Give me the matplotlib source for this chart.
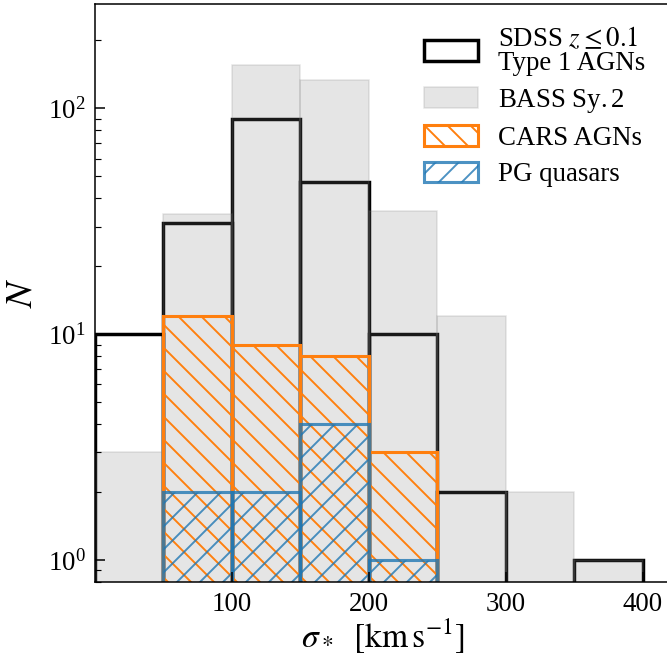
import matplotlib
matplotlib.use('Agg')
import matplotlib.pyplot as plt

plt.rcParams['font.family'] = 'serif'
plt.rcParams['font.serif'] = ['Liberation Serif', 'DejaVu Serif']
plt.rcParams['mathtext.fontset'] = 'stix'

# 50 km/s bins
edges = [0, 50, 100, 150, 200, 250, 300, 350, 400]
lefts = edges[:-1]
sdss_counts = [10, 31, 90, 47, 10, 2, 0, 1]
bass_counts = [3, 34, 155, 133, 35, 12, 2, 1]
cars_counts = [0, 12, 9, 8, 3, 0, 0, 0]
pg_counts = [0, 2, 2, 4, 1, 0, 0, 0]

dpi = 138
fig = plt.figure(figsize=(667 / dpi, 659 / dpi), dpi=dpi)
ax = fig.add_axes([95 / 667, 1 - 582 / 659, 575 / 667, 578 / 659])

ax.hist(lefts, bins=edges, weights=sdss_counts, fill=False,
        edgecolor='black', lw=1.8, label='SDSS $z \\leq 0.1$\nType 1 AGNs')
ax.hist(lefts, bins=edges, weights=bass_counts, color='gray', alpha=0.2,
        edgecolor='gray', lw=0.8, label='BASS Sy.$\\,$2')
ax.hist(lefts, bins=edges, weights=cars_counts, fill=False,
        edgecolor='tab:orange', lw=1.6, hatch='\\\\', label='CARS AGNs')
ax.hist(lefts, bins=edges, weights=pg_counts, fill=False,
        edgecolor='tab:blue', alpha=0.8, lw=1.6, hatch='//', label='PG quasars')

ax.set_yscale('log')
ax.set_xlim(0, 420)
ax.set_ylim(0.8, 290)
ax.set_xticks([100, 200, 300, 400])

ax.tick_params(which='both', direction='in', labelsize=14, right=False)
ax.tick_params(which='major', length=5, width=0.8, pad=5)
ax.tick_params(which='minor', length=3, width=0.6)
for sp in ax.spines.values():
    sp.set_linewidth(0.8)

ax.set_xlabel('$\\sigma_*\\ \\ [\\mathrm{km\\,s^{-1}}]$', fontsize=17.5, labelpad=0)
ax.set_ylabel('$N$', fontsize=20, labelpad=4)

leg = ax.legend(loc='upper right', frameon=False, fontsize=14,
                handlelength=2.0, handleheight=0.8, handletextpad=0.75,
                labelspacing=0.4, borderaxespad=0.3,
                bbox_to_anchor=(0.99, 0.996))
for t in leg.get_texts():
    t.set_linespacing(0.95)

fig.savefig('out.png', dpi=dpi)
